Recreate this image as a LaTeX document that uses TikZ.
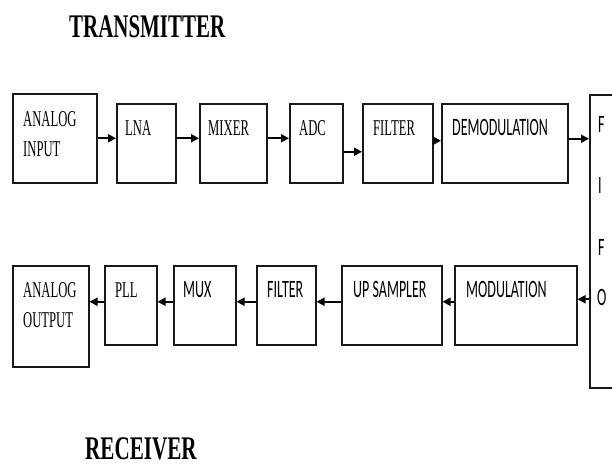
\documentclass[tikz,border=0pt]{standalone}
\usepackage{fontspec}
\usetikzlibrary{arrows.meta}
\newfontfamily\serf{Liberation Serif}
\newfontfamily\sanf{Carlito}
\newcommand{\sq}[1]{\scalebox{0.56}[1]{#1}}
\begin{document}
\begin{tikzpicture}[x=1pt,y=-1pt,
  box/.style={draw=black!90, line width=1.5pt, anchor=north west, inner sep=0pt},
  lab/.style={anchor=base west, inner sep=0pt, text=black},
  sl/.style={lab, font=\serf\fontsize{22.6}{30}\selectfont},
  ss/.style={lab, font=\sanf\fontsize{25}{25}\selectfont},
  ttl/.style={lab, font=\serf\bfseries\fontsize{33}{33}\selectfont},
  arr/.style={line width=1.8pt, -{Triangle[length=8pt,width=8pt]}},
]
\useasboundingbox (0,0) rectangle (612,466);
% titles
\node[ttl] (tx) at (69,37) {\scalebox{0.635}[1]{TRANSMITTER}};
\node[ttl] (rx) at (85,459) {\scalebox{0.64}[1]{RECEIVER}};
% top row boxes
\node[box, minimum width=84pt, minimum height=89pt] (ain) at (12,93) {};
\node[box, minimum width=59pt, minimum height=79pt] (lna) at (116,103) {};
\node[box, minimum width=67pt, minimum height=79pt] (mix) at (199,103) {};
\node[box, minimum width=53pt, minimum height=79pt] (adc) at (289,103) {};
\node[box, minimum width=70pt, minimum height=79pt] (filt) at (362,103) {};
\node[box, minimum width=126pt, minimum height=79pt] (demod) at (441,103) {};
\node[box, minimum width=40pt, minimum height=293pt] (fifo) at (589,94) {};
% bottom row boxes
\node[box, minimum width=76pt, minimum height=101pt] (aout) at (12,265) {};
\node[box, minimum width=52pt, minimum height=79pt] (pll) at (104,265) {};
\node[box, minimum width=62pt, minimum height=79pt] (mux) at (173,265) {};
\node[box, minimum width=59pt, minimum height=79pt] (filt2) at (256,265) {};
\node[box, minimum width=100pt, minimum height=79pt] (ups) at (341,265) {};
\node[box, minimum width=122pt, minimum height=79pt] (mod) at (454,265) {};
% labels
\node[sl] (lain) at (23,126) {\sq{\begin{tabular}[t]{@{}l@{}}ANALOG\\INPUT\end{tabular}}};
\node[sl] (llna) at (125,135) {\sq{LNA}};
\node[sl] (lmix) at (208,135) {\sq{MIXER}};
\node[sl] (ladc) at (299,135) {\sq{ADC}};
\node[sl] (lfilt) at (373,135) {\sq{FILTER}};
\node[ss] (ldemod) at (452,135) {\sq{DEMODULATION}};
\node[ss] (lf1) at (598,132) {\sq{F}};
\node[ss] (li) at (598,193) {\sq{I}};
\node[ss] (lf2) at (598,255) {\sq{F}};
\node[ss] (lo) at (597,305) {\sq{O}};
\node[sl] (laout) at (23,297) {\sq{\begin{tabular}[t]{@{}l@{}}ANALOG\\OUTPUT\end{tabular}}};
\node[sl] (lpll) at (115,297) {\sq{PLL}};
\node[ss] (lmux) at (183,297) {\sq{MUX}};
\node[ss] (lfilt2) at (267,297) {\sq{FILTER}};
\node[ss] (lups) at (353,297) {\sq{UP SAMPLER}};
\node[ss] (lmod) at (466,297) {\sq{MODULATION}};
% top arrows
\draw[arr] (ain.east) -- (ain.east -| lna.west);
\draw[arr] ([yshift=5pt]lna.east) -- ([yshift=5pt]lna.east -| mix.west);
\draw[arr] ([yshift=5pt]mix.east) -- ([yshift=5pt]mix.east -| adc.west);
\draw[arr] ([yshift=-8.5pt]adc.east) -- ([yshift=-8.5pt]adc.east -| filt.west);
\draw[arr] ([yshift=2.5pt]filt.east) -- ([yshift=2.5pt]filt.east -| demod.west);
\draw[arr] ([yshift=4.5pt]demod.east) -- ([yshift=4.5pt]demod.east -| fifo.west);
% bottom arrows
\draw[arr] ([yshift=6pt]mod.east -| fifo.west) -- ([yshift=6pt]mod.east);
\draw[arr] ([yshift=3.5pt]mod.west) -- ([yshift=3.5pt]mod.west -| ups.east);
\draw[arr] ([yshift=3.5pt]ups.west) -- ([yshift=3.5pt]ups.west -| filt2.east);
\draw[arr] ([yshift=3.5pt]filt2.west) -- ([yshift=3.5pt]filt2.west -| mux.east);
\draw[arr] ([yshift=3.5pt]mux.west) -- ([yshift=3.5pt]mux.west -| pll.east);
\draw[arr] ([yshift=3.5pt]pll.west) -- ([yshift=3.5pt]pll.west -| aout.east);
\end{tikzpicture}
\end{document}
